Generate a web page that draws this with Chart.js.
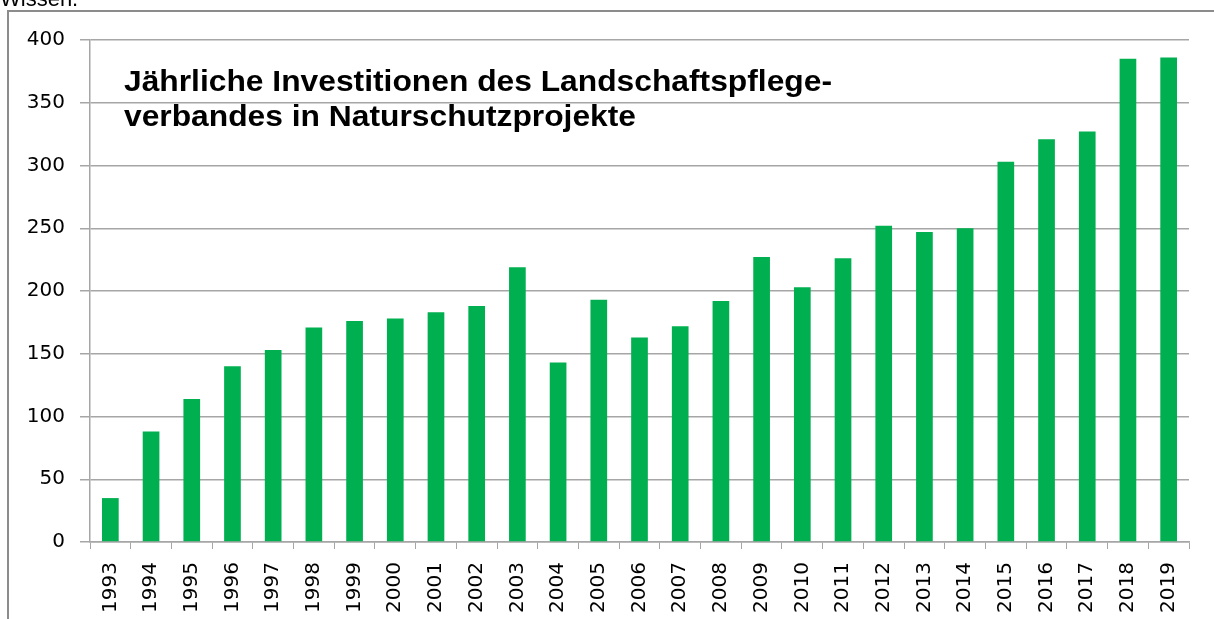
<!DOCTYPE html>
<html>
<head>
<meta charset="utf-8">
<script src="https://cdn.jsdelivr.net/npm/chart.js@4"></script>
<style>
  html, body { margin: 0; padding: 0; background: #fff; }
  #wrap { width: 1214px; height: 619px; position: relative; }
</style>
</head>
<body>
<div id="wrap"><canvas id="myChart"></canvas></div>
<script>
// data
var years = ["1993","1994","1995","1996","1997","1998","1999","2000","2001","2002",
"2003","2004","2005","2006","2007","2008","2009","2010","2011","2012",
"2013","2014","2015","2016","2017","2018","2019"];
var investments = [35, 88, 114, 140, 153, 171, 176, 178, 183, 188,
219, 143, 193, 163, 172, 192, 227, 203, 226, 252,
247, 250, 303, 321, 327, 385, 386];
var yTicks = [0, 50, 100, 150, 200, 250, 300, 350, 400];
var titleLines = ["Jährliche Investitionen des Landschaftspflege-", "verbandes in Naturschutzprojekte"];
var topText = "Wissen.";

var gridGray = '#a6a6a6';

// frame, cut off text at top, title inside the plot
var decorPlugin = {
  id: 'decor',
  afterDraw: function(chart) {
    var ctx = chart.ctx;
    ctx.save();
    ctx.strokeStyle = '#8c8c8c';
    ctx.lineWidth = 2;
    ctx.beginPath();
    ctx.moveTo(8, 625);
    ctx.lineTo(8, 11);
    ctx.lineTo(1220, 11);
    ctx.stroke();

    ctx.fillStyle = '#000';
    ctx.font = '22px "Liberation Sans", Arial, sans-serif';
    ctx.textBaseline = 'alphabetic';
    ctx.fillText(topText, 0, 6);

    // title is a bit wider in the source, stretch it to fit
    ctx.font = 'bold 29px "Liberation Sans", Arial, sans-serif';
    var w = ctx.measureText(titleLines[0]).width;
    var sx = 708 / w;
    ctx.translate(124, 0);
    ctx.scale(sx, 1);
    ctx.fillText(titleLines[0], 0, 91);
    ctx.fillText(titleLines[1], 0, 126);
    ctx.restore();
  }
};

var chart = new Chart(document.getElementById('myChart').getContext('2d'), {
  type: 'bar',
  data: {
    labels: years,
    datasets: [{
      data: investments,
      backgroundColor: '#00b050',
      barPercentage: 0.41,
      categoryPercentage: 1
    }]
  },
  options: {
    responsive: true,
    maintainAspectRatio: false,
    animation: false,
    layout: { padding: { left: 0, top: 40, right: 25, bottom: 0 } },
    plugins: {
      legend: { display: false },
      tooltip: { enabled: false }
    },
    scales: {
      x: {
        grid: { drawOnChartArea: false, color: gridGray, tickLength: 7, offset: true },
        border: { color: gridGray, width: 1.5 },
        ticks: {
          minRotation: 90, maxRotation: 90, padding: 13, autoSkip: false,
          color: '#000',
          font: { family: '"DejaVu Sans"', size: 20 }
        },
        afterFit: function(scale) { scale.height = 77; }
      },
      y: {
        min: 0, max: 400,
        afterBuildTicks: function(scale) {
          scale.ticks = yTicks.map(function(v) { return { value: v }; });
        },
        grid: { color: gridGray, lineWidth: 1.5, tickLength: 10 },
        border: { color: gridGray, width: 1.5 },
        ticks: {
          padding: 15, color: '#000',
          font: { family: '"DejaVu Sans"', size: 20 }
        },
        afterFit: function(scale) { scale.width = 90; }
      }
    }
  },
  plugins: [decorPlugin]
});
</script>
</body>
</html>
